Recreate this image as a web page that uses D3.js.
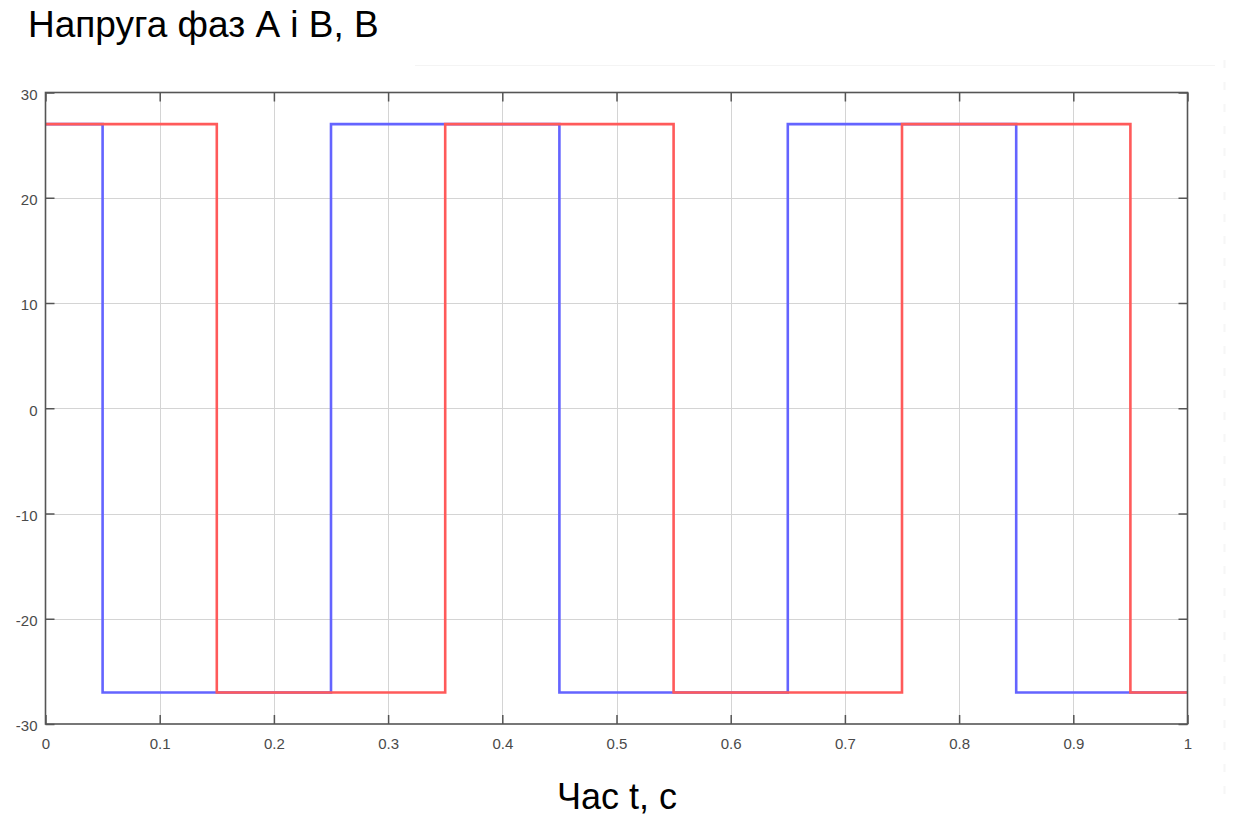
<!DOCTYPE html>
<html><head><meta charset="utf-8">
<script src="https://cdn.jsdelivr.net/npm/d3@7"></script>
<style>body{margin:0;background:#fff;} svg{display:block;}</style>
</head><body>
<svg id="c" width="1235" height="818"></svg>
<script>
const titleText = "Напруга фаз А і В, В";
const xLabelText = "Час t, с";
const xTicks = [0,0.1,0.2,0.3,0.4,0.5,0.6,0.7,0.8,0.9,1];
const yTicks = [-30,-20,-10,0,10,20,30];
// step series: [time, value] (value holds until next time)
const phaseA = [[0,27],[0.05,-27],[0.25,27],[0.45,-27],[0.65,27],[0.85,-27],[1,-27]];
const phaseB = [[0,27],[0.15,-27],[0.35,27],[0.55,-27],[0.75,27],[0.95,-27],[1,-27]];

const svg = d3.select("#c");
const m = {l:45.5, t:92.5, r:1187.5, b:724};
const x = d3.scaleLinear().domain([0,1]).range([m.l, m.r]);
const y = d3.scaleLinear().domain([-30,30]).range([m.b, m.t]);
const FONT = "'Liberation Sans', Arial, sans-serif";

// faint artifacts
svg.append("line").attr("x1",415).attr("x2",1215).attr("y1",65.5).attr("y2",65.5).attr("stroke","#f4f4f4").attr("stroke-width",1);
svg.append("line").attr("x1",1224.5).attr("x2",1224.5).attr("y1",60).attr("y2",800).attr("stroke","#f6f6f6").attr("stroke-width",2).attr("stroke-dasharray","8,14");

// grid
const g = svg.append("g");
g.selectAll(".gx").data(xTicks.slice(1,-1)).enter().append("line")
  .attr("x1",d=>Math.round(x(d))+0.5).attr("x2",d=>Math.round(x(d))+0.5)
  .attr("y1",m.t).attr("y2",m.b).attr("stroke","#d4d4d4").attr("stroke-width",1);
g.selectAll(".gy").data(yTicks.slice(1,-1)).enter().append("line")
  .attr("y1",d=>Math.round(y(d))+0.5).attr("y2",d=>Math.round(y(d))+0.5)
  .attr("x1",m.l).attr("x2",m.r).attr("stroke","#d4d4d4").attr("stroke-width",1);

// lines
const line = d3.line().x(d=>x(d[0])).y(d=>y(d[1])).curve(d3.curveStepAfter);
svg.append("path").datum(phaseA).attr("d",line).attr("fill","none")
  .attr("stroke","#6464ff").attr("stroke-width",2.6);
svg.append("path").datum(phaseB).attr("d",line).attr("fill","none")
  .attr("stroke","#ff5a5a").attr("stroke-width",2.6);

// axes
const fmt = d => String(d);
const tickStyle = (sel)=>{
  sel.select(".domain").remove();
  sel.selectAll(".tick line").attr("stroke","#555").attr("stroke-width",1.5);
  sel.selectAll(".tick text").attr("fill","#4a4a4a").style("font-family",FONT).style("font-size","15px");
};
svg.append("g").attr("transform",`translate(0,${m.b})`)
  .call(d3.axisBottom(x).tickValues(xTicks).tickFormat(fmt).tickSizeInner(-9).tickPadding(14))
  .call(tickStyle);
svg.append("g").attr("transform",`translate(${m.l},0)`)
  .call(d3.axisLeft(y).tickValues(yTicks).tickFormat(fmt).tickSizeInner(-9).tickPadding(8))
  .call(tickStyle)
  .selectAll(".tick text").attr("dy","0.45em");
svg.append("g").attr("transform",`translate(0,${m.t})`)
  .call(d3.axisTop(x).tickValues(xTicks).tickFormat("").tickSizeInner(-9))
  .call(tickStyle);
svg.append("g").attr("transform",`translate(${m.r},0)`)
  .call(d3.axisRight(y).tickValues(yTicks).tickFormat("").tickSizeInner(-9))
  .call(tickStyle);

// box
svg.append("rect").attr("x",m.l).attr("y",m.t).attr("width",m.r-m.l).attr("height",m.b-m.t)
  .attr("fill","none").attr("stroke","#555").attr("stroke-width",1.6);

svg.append("text").attr("x",28).attr("y",37).text(titleText)
  .style("font-family",FONT).style("font-size","37px").attr("fill","#000");
svg.append("text").attr("x",617).attr("y",809).attr("text-anchor","middle").text(xLabelText)
  .style("font-family",FONT).style("font-size","36px").attr("fill","#000");
</script>
</body></html>
